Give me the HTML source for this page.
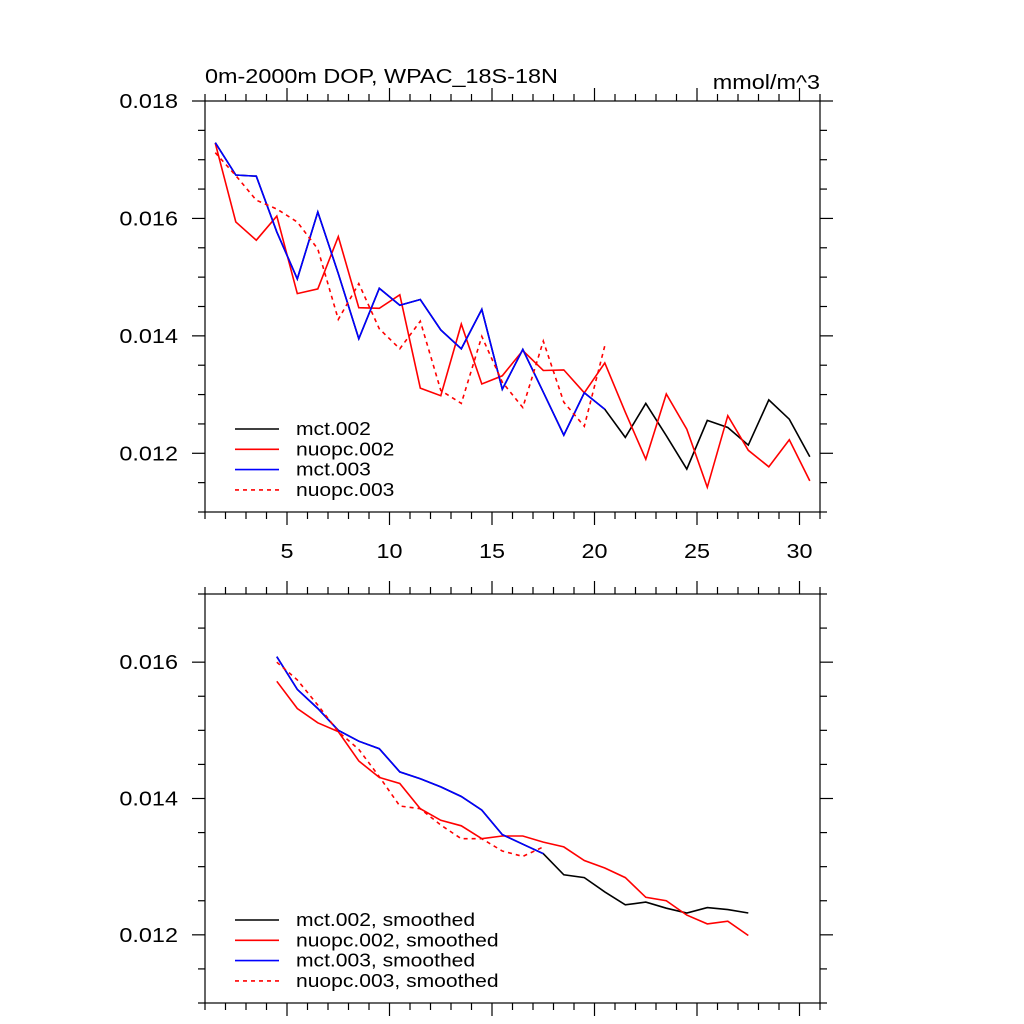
<!DOCTYPE html>
<html><head><meta charset="utf-8"><style>
html,body{margin:0;padding:0;background:#fff;}
svg{display:block;font-family:"Liberation Sans",sans-serif;}
</style></head><body>
<svg id="chart" width="1024" height="1024" viewBox="0 0 1024 1024" xmlns="http://www.w3.org/2000/svg">
<rect width="1024" height="1024" fill="#fff"/>
<text id="title" x="205" y="83" font-size="20">0m-2000m DOP, WPAC_18S-18N</text>
<text id="units" x="820" y="89" font-size="20" text-anchor="end">mmol/m^3</text>
<g id="top"></g>
<g id="bot"></g>
</svg>
<script>
const xTop = [1.5,2.5,3.5,4.5,5.5,6.5,7.5,8.5,9.5,10.5,11.5,12.5,13.5,14.5,15.5,16.5,17.5,18.5,19.5,20.5,21.5,22.5,23.5,24.5,25.5,26.5,27.5,28.5,29.5,30.5];
const mct002 = [0.01729,0.01674,0.01672,0.01577,0.01497,0.01611,0.01506,0.01395,0.01481,0.01452,0.01462,0.01410,0.01378,0.01445,0.01309,0.01377,0.01304,0.01231,0.01303,0.01275,0.01227,0.01285,0.01230,0.01173,0.01256,0.01244,0.01214,0.01291,0.01258,0.01194];
const nuopc002 = [0.01728,0.01594,0.01563,0.01604,0.01472,0.01480,0.01569,0.01448,0.01447,0.01470,0.01311,0.01298,0.01420,0.01318,0.01332,0.01375,0.01341,0.01342,0.01303,0.01354,0.01270,0.01190,0.01301,0.01241,0.01142,0.01264,0.01205,0.01177,0.01223,0.01153];
const mct003 = [0.01729,0.01674,0.01672,0.01577,0.01497,0.01611,0.01506,0.01395,0.01481,0.01452,0.01462,0.01410,0.01378,0.01445,0.01309,0.01377,0.01304,0.01231,0.01303,0.01275];
const nuopc003 = [0.01712,0.01673,0.01631,0.01616,0.01594,0.01548,0.01428,0.01489,0.01412,0.01378,0.01425,0.01307,0.01285,0.01399,0.01321,0.01278,0.01391,0.01287,0.01246,0.01383];
const xBot = [4.5,5.5,6.5,7.5,8.5,9.5,10.5,11.5,12.5,13.5,14.5,15.5,16.5,17.5,18.5,19.5,20.5,21.5,22.5,23.5,24.5,25.5,26.5,27.5];
const mct002s = [0.01608,0.01560,0.01532,0.01500,0.01484,0.01473,0.01439,0.01429,0.01417,0.01403,0.01383,0.01347,0.01333,0.01319,0.01288,0.01284,0.01263,0.01244,0.01248,0.01239,0.01232,0.01240,0.01237,0.01232];
const nuopc002s = [0.01572,0.01532,0.01511,0.01498,0.01455,0.01431,0.01422,0.01385,0.01368,0.01360,0.01341,0.01345,0.01345,0.01336,0.01329,0.01309,0.01298,0.01284,0.01255,0.01250,0.01229,0.01216,0.01220,0.01199];
const mct003s = [0.01608,0.01560,0.01532,0.01500,0.01484,0.01473,0.01439,0.01429,0.01417,0.01403,0.01383,0.01347,0.01333,0.01319];
const nuopc003s = [0.01600,0.01574,0.01537,0.01498,0.01472,0.01432,0.01389,0.01385,0.01361,0.01341,0.01341,0.01323,0.01315,0.01329];
const xTicks = [5,10,15,20,25,30];
const yTicksTop = [0.012,0.014,0.016,0.018];
const yTicksBot = [0.012,0.014,0.016];

const NS='http://www.w3.org/2000/svg';
const WF=1.17;
function mk(parent,tag,attrs){const e=document.createElementNS(NS,tag);for(const k in attrs)e.setAttribute(k,attrs[k]);parent.appendChild(e);return e;}
function widen(t){const w=t.getComputedTextLength();t.setAttribute('textLength',(w*WF).toFixed(1));t.setAttribute('lengthAdjust','spacingAndGlyphs');}

function panel(g,top,bottom,ymin,ymax,yTicks,showX,series,labels,legY){
  const L=205,R=820;
  const sx=v=>L+(v-1)/30*(R-L);
  const sy=v=>bottom-(v-ymin)/(ymax-ymin)*(bottom-top);
  const ax=mk(g,'g',{stroke:'#000','stroke-width':1.2});
  
  
  mk(ax,'rect',{x:L,y:top,width:R-L,height:bottom-top,fill:'none'});
  for(let x=1;x<=31;x++){const p=sx(x);const maj=x%5===0;const len=maj?13:7;
    mk(ax,'line',{x1:p,y1:bottom,x2:p,y2:bottom+len});
    mk(ax,'line',{x1:p,y1:top,x2:p,y2:top-len});}
  for(let v=ymin;v<=ymax+1e-9;v+=0.0005){const p=sy(v);const maj=Math.abs(v*1000-Math.round(v*1000))<1e-6&&Math.round(v*1000)%2===0;const len=maj?13:7;
    mk(ax,'line',{x1:L,y1:p,x2:L-len,y2:p});
    mk(ax,'line',{x1:R,y1:p,x2:R+len,y2:p});}
  yTicks.forEach(v=>{const t=mk(g,'text',{x:178,y:sy(v)+7,'font-size':20,'text-anchor':'end'});t.textContent=v.toFixed(3);
    
    
    widen(t);});
  if(showX)xTicks.forEach(v=>{const t=mk(g,'text',{x:sx(v),y:558,'font-size':20,'text-anchor':'middle'});t.textContent=v;
    
    
    widen(t);});
  series.forEach((s,i)=>{
    const pts=s.y.map((v,j)=>sx(s.x[j]).toFixed(1)+','+sy(v).toFixed(1)).join(' ');
    const pl=mk(g,'polyline',{points:pts,fill:'none',stroke:s.c,'stroke-width':1.6,'stroke-dasharray':s.d||'none'});
    
    
  });
  labels.forEach((s,i)=>{
    const y=legY+i*20.3;
    const lg=mk(g,'g',{});
    
    
    mk(lg,'line',{x1:235,y1:y,x2:279,y2:y,stroke:s.c,'stroke-width':1.6,'stroke-dasharray':s.d||'none'});
    const t=mk(lg,'text',{x:296,y:y+6,'font-size':18});t.textContent=s.label;
    widen(t);
  });
}
widen(document.getElementById('title'));
widen(document.getElementById('units'));
const topSeries=[
 {x:xTop,y:mct002,c:'#000',n:'mct002'},
 {x:xTop,y:nuopc002,c:'#f00',n:'nuopc002'},
 {x:xTop,y:mct003,c:'#00f',n:'mct003'},
 {x:xTop,y:nuopc003,c:'#f00',d:'4,4',n:'nuopc003'}];
panel(document.getElementById('top'),101,512,0.011,0.018,yTicksTop,true,topSeries,
 [{c:'#000',label:'mct.002'},{c:'#f00',label:'nuopc.002'},{c:'#00f',label:'mct.003'},{c:'#f00',d:'4,4',label:'nuopc.003'}],429);
const botSeries=[
 {x:xBot,y:mct002s,c:'#000',n:'mct002-smoothed'},
 {x:xBot,y:nuopc002s,c:'#f00',n:'nuopc002-smoothed'},
 {x:xBot,y:mct003s,c:'#00f',n:'mct003-smoothed'},
 {x:xBot,y:nuopc003s,c:'#f00',d:'4,4',n:'nuopc003-smoothed'}];
panel(document.getElementById('bot'),594,1003,0.011,0.017,yTicksBot,false,botSeries,
 [{c:'#000',label:'mct.002, smoothed'},{c:'#f00',label:'nuopc.002, smoothed'},{c:'#00f',label:'mct.003, smoothed'},{c:'#f00',d:'4,4',label:'nuopc.003, smoothed'}],920);
</script>
</body></html>
